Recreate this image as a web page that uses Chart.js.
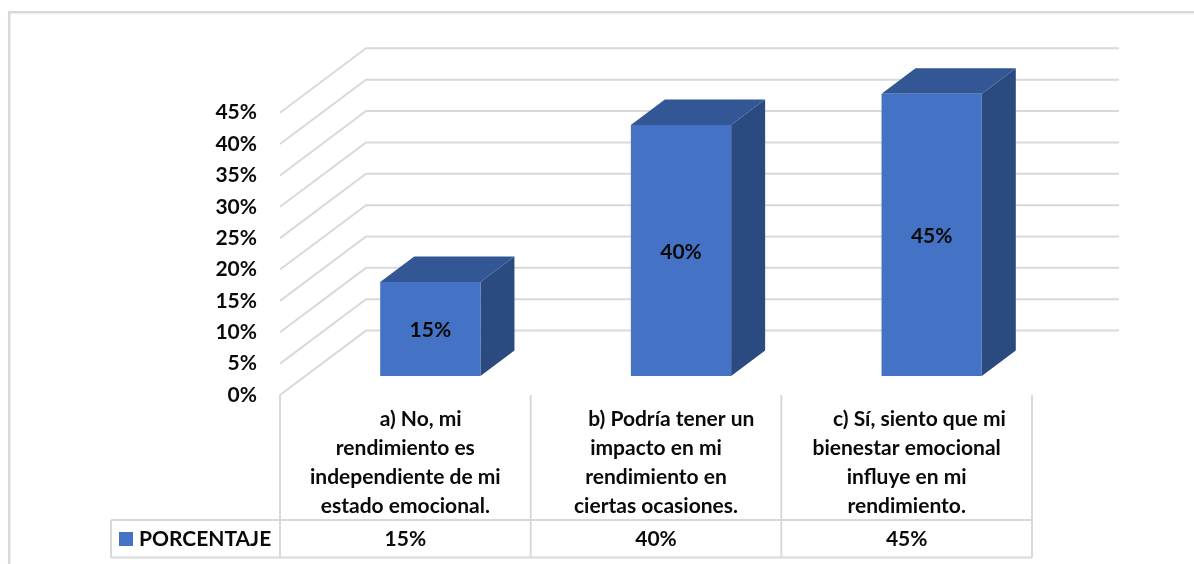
<!DOCTYPE html>
<html>
<head>
<meta charset="utf-8">
<style>
  html, body { margin: 0; padding: 0; background: #fff; }
  canvas { display: block; }
</style>
<script src="https://cdn.jsdelivr.net/npm/chart.js@4/dist/chart.umd.min.js"></script>
</head>
<body>
<canvas id="grafico" width="1194" height="564"></canvas>
<script>
// nbsp at the start of the first lines: those lines sit off-centre in the original
const categorias = [
  ['\u00a0\u00a0\u00a0\u00a0\u00a0\u00a0a) No, mi', 'rendimiento es', 'independiente de mi', 'estado emocional.'],
  ['\u00a0\u00a0\u00a0\u00a0\u00a0\u00a0b) Podría tener un', 'impacto en mi', 'rendimiento en', 'ciertas ocasiones.'],
  ['\u00a0\u00a0\u00a0\u00a0\u00a0c) Sí, siento que mi', 'bienestar emocional', 'influye en mi', 'rendimiento.']
];
const serie = 'PORCENTAJE';
const valores = [15, 40, 45];
const ticksY = [0, 5, 10, 15, 20, 25, 30, 35, 40, 45];

const fuente = 'Lato, sans-serif';
const gris = '#d9d9d9';
const negro = '#0a0a0a';

function linea(ctx, puntos) {
  ctx.beginPath();
  puntos.forEach((p, i) => i ? ctx.lineTo(p[0], p[1]) : ctx.moveTo(p[0], p[1]));
  ctx.stroke();
}

function cara(ctx, color, puntos) {
  ctx.fillStyle = color;
  ctx.beginPath();
  puntos.forEach((p, i) => i ? ctx.lineTo(p[0], p[1]) : ctx.moveTo(p[0], p[1]));
  ctx.closePath();
  ctx.fill();
}

// fake 3D: back walls, bar sides and the data table are drawn off the real scales
const tresD = {
  id: 'tresD',
  beforeDatasetsDraw(chart) {
    const { ctx, chartArea: a, scales: { y } } = chart;
    const fondoX = 86, fondoY = 64.4, finX = 1119;
    const offX = 25, offY = 19, profX = 34, profY = 25.5;

    ctx.save();
    ctx.strokeStyle = gris;
    ctx.lineWidth = 2;
    ticksY.forEach(v => {
      const py = y.getPixelForValue(v);
      linea(ctx, [[a.left, py], [a.left + fondoX, py - fondoY], [finX, py - fondoY]]);
    });

    chart.getDatasetMeta(0).data.forEach(b => {
      const izq = b.x - b.width / 2 + offX, der = b.x + b.width / 2 + offX;
      const arriba = b.y - offY, abajo = b.base - offY;
      cara(ctx, '#2b4a80', [[der, arriba], [der + profX, arriba - profY], [der + profX, abajo - profY], [der, abajo]]);
      cara(ctx, '#335694', [[izq, arriba], [izq + profX, arriba - profY], [der + profX, arriba - profY], [der, arriba]]);
    });
    ctx.restore();
  },
  beforeDatasetDraw(chart) {
    chart.ctx.save();
    chart.ctx.translate(25, -19);
  },
  afterDatasetDraw(chart) {
    chart.ctx.restore();
  },
  afterDatasetsDraw(chart) {
    const { ctx, chartArea: a, scales: { x } } = chart;
    const filaArriba = 520, filaAbajo = 557.5, filaTexto = 539, tablaIzq = 111;

    ctx.save();
    // frame of the picture, open on the right and bottom
    ctx.strokeStyle = gris;
    ctx.lineWidth = 2.5;
    linea(ctx, [[9.2, 564], [9.2, 12.2], [1194, 12.2]]);

    // table
    ctx.lineWidth = 2;
    const paso = (a.right - a.left) / categorias.length;
    linea(ctx, [[tablaIzq, filaArriba], [a.right, filaArriba]]);
    linea(ctx, [[tablaIzq, filaAbajo], [a.right, filaAbajo]]);
    linea(ctx, [[tablaIzq, filaArriba], [tablaIzq, filaAbajo]]);
    for (let i = 0; i <= categorias.length; i++) {
      linea(ctx, [[a.left + paso * i, a.bottom], [a.left + paso * i, filaAbajo]]);
    }

    ctx.fillStyle = '#4472c4';
    ctx.fillRect(119, 532, 14, 14);

    ctx.fillStyle = negro;
    ctx.font = 'bold 21px ' + fuente;
    ctx.textBaseline = 'middle';
    ctx.textAlign = 'left';
    ctx.fillText(serie, 139, filaTexto);

    ctx.textAlign = 'center';
    chart.getDatasetMeta(0).data.forEach((b, i) => {
      ctx.fillText(valores[i] + '%', x.getPixelForValue(i), filaTexto);
      ctx.fillText(valores[i] + '%', b.x + 25, (b.y + b.base) / 2 - 19 + 1.5);
    });
    ctx.restore();
  }
};

new Chart(document.getElementById('grafico').getContext('2d'), {
  type: 'bar',
  data: {
    labels: categorias,
    datasets: [{
      label: serie,
      data: valores,
      backgroundColor: '#4472c4',
      categoryPercentage: 1,
      barPercentage: 0.4
    }]
  },
  plugins: [tresD],
  options: {
    responsive: false,
    animation: false,
    layout: { padding: { top: 112.7, right: 162, bottom: 0, left: 0 } },
    plugins: { legend: { display: false }, tooltip: { enabled: false } },
    scales: {
      x: {
        afterFit: s => { s.height = 169; },
        grid: { display: false, drawTicks: false },
        border: { display: false },
        ticks: {
          color: negro,
          maxRotation: 0,
          autoSkip: false,
          padding: 10,
          font: { family: fuente, size: 21, weight: 'bold', lineHeight: 29 / 21 }
        }
      },
      y: {
        min: 0,
        max: 45,
        afterFit: s => { s.width = 280; },
        grid: { display: false, drawTicks: false },
        border: { display: false },
        ticks: {
          stepSize: 5,
          color: negro,
          padding: 23,
          callback: v => v + '%',
          font: { family: fuente, size: 21, weight: 'bold' }
        }
      }
    }
  }
});
</script>
</body>
</html>
